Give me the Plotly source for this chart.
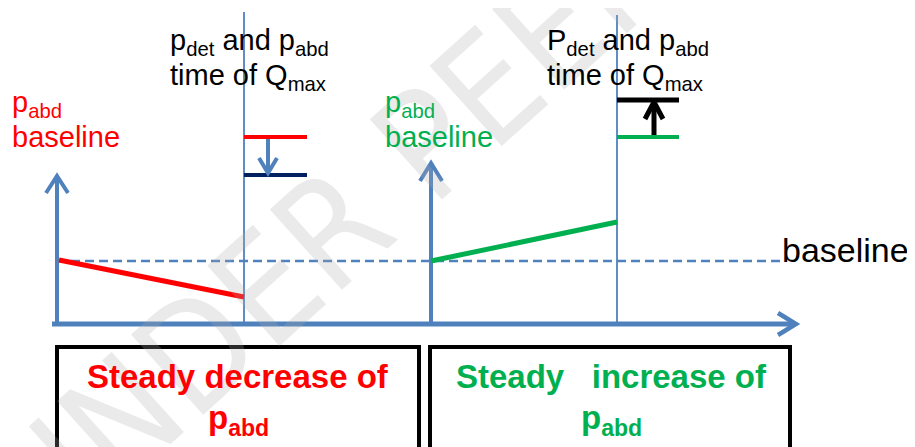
import plotly.graph_objects as go

W, H = 915, 447
PAGE_MARGIN = 8  # default body margin of the html page
FONT = "Liberation Sans, Arial, sans-serif"
WM_FONT = "Liberation Sans Narrow, Arial Narrow, DejaVu Sans Condensed, sans-serif"

BLUE = "#4F81BD"
RED = "#FF0000"
GREEN = "#00B050"
NAVY = "#002060"
BLACK = "#000000"

# ---- diagram geometry (pixel space of the original figure) ----
# axes
x_axis_x = [52, 795]
x_axis_y = [324, 324]
y_axis1_x = [57, 57]
y_axis1_y = [324, 177]
y_axis2_x = [431, 431]
y_axis2_y = [324, 164]
# arrow heads (chevrons)
head_x_axis_x = [778, 796, 778]
head_x_axis_y = [313, 324, 335]
head_y1_x = [46, 57, 68]
head_y1_y = [193, 176, 193]
head_y2_x = [420, 431, 442]
head_y2_y = [181, 163, 181]
# time markers (thin verticals)
marker1_x = [244, 244]
marker1_y = [12, 324]
marker2_x = [617, 617]
marker2_y = [15, 324]
# dashed baseline
base_x = [57, 783]
base_y = [261, 261]
# p_abd trends
red_trend_x = [59, 244]
red_trend_y = [260, 297]
green_trend_x = [431, 617]
green_trend_y = [261, 222]
# pressure levels at Qmax
red_level_x = [244, 307]
red_level_y = [137, 137]
navy_level_x = [244, 307]
navy_level_y = [175, 175]
black_level_x = [617, 679]
black_level_y = [100, 100]
green_level_x = [617, 679]
green_level_y = [137, 137]
# small arrows
down_shaft_x = [268, 268]
down_shaft_y = [139, 171]
down_head_x = [259, 268, 277]
down_head_y = [158, 173, 158]
up_shaft_x = [654, 654]
up_shaft_y = [135, 104]
up_head_x = [645, 654, 663]
up_head_y = [119, 102, 119]
# boxes [x0, y0, x1, y1]
box_left = [57, 347, 419, 470]
box_right = [430, 347, 790, 470]

# ---- texts ----
label_texts = [
    "p<sub>abd</sub>", "baseline",
    "p<sub>abd</sub>", "baseline",
    "p<sub>det</sub> and p<sub>abd</sub>", "time of Q<sub>max</sub>",
    "P<sub>det</sub> and p<sub>abd</sub>", "time of Q<sub>max</sub>",
    "baseline",
]
label_x = [10, 10, 383, 383, 168, 168, 545, 545, 780]
label_y = [104, 137, 104, 137, 42, 77, 42, 77, 250]
label_colors = [RED, RED, GREEN, GREEN, BLACK, BLACK, BLACK, BLACK, BLACK]
label_sizes = [29, 29, 29, 29, 29, 29, 29, 29, 34]

box_texts = ["Steady decrease of", "p<sub>abd</sub>",
             "Steady &nbsp; increase of", "p<sub>abd</sub>"]
box_text_x = [238, 238, 611, 611]
box_text_y = [376, 420, 376, 420]
box_text_colors = [RED, RED, GREEN, GREEN]

watermark = "UNDER PEER REVIEW"
watermark_anchor = [542, 41]

fig = go.Figure()


def seg(xs, ys, color, width, dash="solid"):
    fig.add_trace(go.Scatter(x=xs, y=ys, mode="lines",
                             line=dict(color=color, width=width, dash=dash),
                             hoverinfo="skip", showlegend=False))


# watermark first (behind everything)
fig.add_annotation(x=watermark_anchor[0], y=watermark_anchor[1], xref="x", yref="y",
                   text=watermark, showarrow=False, textangle=-42,
                   font=dict(family=WM_FONT, size=148, color="rgba(170,170,170,0.25)"))

seg(base_x, base_y, BLUE, 2.5, dash="9px,5px")
seg(marker1_x, marker1_y, BLUE, 1.8)
seg(marker2_x, marker2_y, BLUE, 1.8)
seg(x_axis_x, x_axis_y, BLUE, 5)
seg(y_axis1_x, y_axis1_y, BLUE, 4)
seg(y_axis2_x, y_axis2_y, BLUE, 4)
seg(head_x_axis_x, head_x_axis_y, BLUE, 4.5)
seg(head_y1_x, head_y1_y, BLUE, 4)
seg(head_y2_x, head_y2_y, BLUE, 4)
seg(red_trend_x, red_trend_y, RED, 5)
seg(green_trend_x, green_trend_y, GREEN, 5)
seg(red_level_x, red_level_y, RED, 4)
seg(navy_level_x, navy_level_y, NAVY, 4)
seg(black_level_x, black_level_y, BLACK, 5)
seg(green_level_x, green_level_y, GREEN, 4)
seg(down_shaft_x, down_shaft_y, BLUE, 4)
seg(down_head_x, down_head_y, BLUE, 4)
seg(up_shaft_x, up_shaft_y, BLACK, 5)
seg(up_head_x, up_head_y, BLACK, 5)

for b in (box_left, box_right):
    fig.add_shape(type="rect", xref="x", yref="y", x0=b[0], y0=b[1], x1=b[2], y1=b[3],
                  line=dict(color=BLACK, width=4), fillcolor="rgba(0,0,0,0)")

for t, x, y, c, s in zip(label_texts, label_x, label_y, label_colors, label_sizes):
    fig.add_annotation(x=x, y=y, xref="x", yref="y", text=t, showarrow=False,
                       xanchor="left", yanchor="middle",
                       font=dict(family=FONT, size=s, color=c))

for t, x, y, c in zip(box_texts, box_text_x, box_text_y, box_text_colors):
    fig.add_annotation(x=x, y=y, xref="x", yref="y", text="<b>" + t + "</b>",
                       showarrow=False, xanchor="center", yanchor="middle",
                       font=dict(family=FONT, size=33, color=c))

# the page adds an 8px body margin, so the figure is shrunk by it and the
# axis ranges start at 8 so that data pixels map to window pixels
fig.update_layout(
    width=W - PAGE_MARGIN, height=H - PAGE_MARGIN,
    margin=dict(l=0, r=0, t=0, b=0),
    paper_bgcolor="white", plot_bgcolor="white",
    xaxis=dict(range=[PAGE_MARGIN, W], visible=False, fixedrange=True),
    yaxis=dict(range=[H, PAGE_MARGIN], visible=False, fixedrange=True),
    showlegend=False,
)

fig.write_html("out.html")
